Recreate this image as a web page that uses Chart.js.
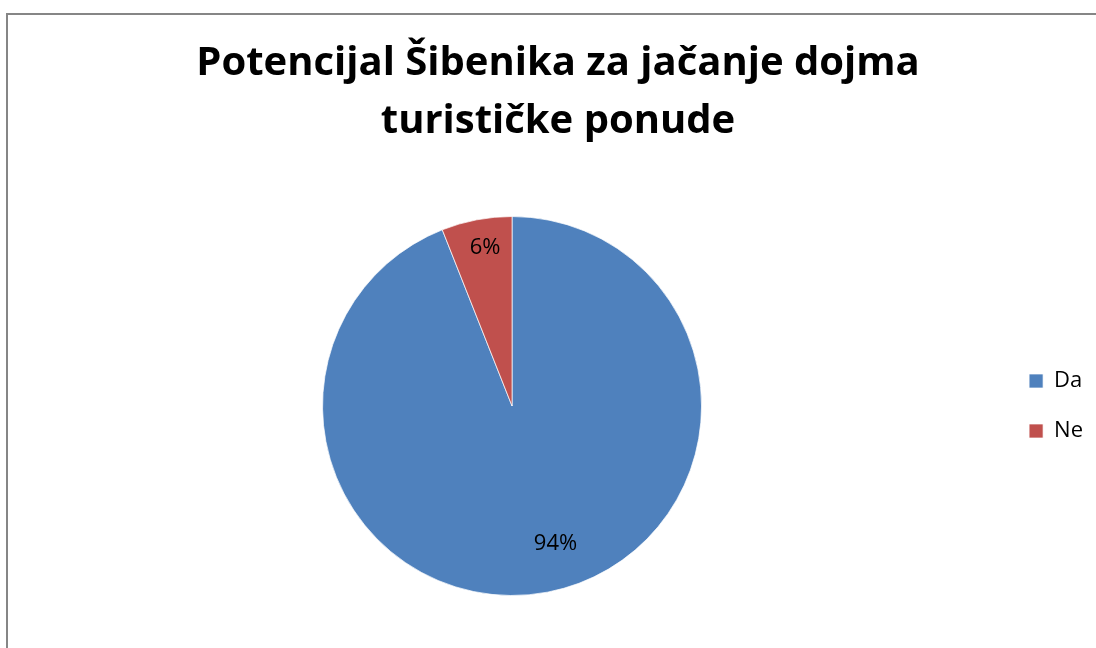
<!DOCTYPE html>
<html>
<head>
<meta charset="utf-8">
<script src="https://cdn.jsdelivr.net/npm/chart.js@4/dist/chart.umd.min.js"></script>
<style>
html,body{margin:0;padding:0;background:#fff;overflow:hidden;}
#wrap{position:absolute;left:0;top:0;width:1096px;height:648px;}
</style>
</head>
<body>
<div id="wrap"><canvas id="c" width="1096" height="648"></canvas></div>
<script>
const titleLines = ['Potencijal Šibenika za jačanje dojma', 'turističke ponude'];
const categories = ['Da', 'Ne'];
const values = [94, 6];
const colors = ['#4F81BD', '#C0504D'];

const FONT = '"Open Sans", Lato, sans-serif';

const frame = {
  id: 'frame',
  beforeDraw(chart) {
    const ctx = chart.ctx;
    ctx.save();
    ctx.fillStyle = '#fff';
    ctx.fillRect(0, 0, chart.width, chart.height);
    ctx.strokeStyle = '#868686';
    ctx.lineWidth = 2;
    ctx.beginPath();
    ctx.moveTo(7, chart.height + 5);
    ctx.lineTo(7, 14);
    ctx.lineTo(chart.width + 5, 14);
    ctx.stroke();
    ctx.restore();
  }
};

const sliceLabels = {
  id: 'sliceLabels',
  afterDatasetsDraw(chart) {
    const ctx = chart.ctx;
    const meta = chart.getDatasetMeta(0);
    const data = chart.data.datasets[0].data;
    const total = data.reduce((a, b) => a + b, 0);
    const radial = [0.762, 0.846];
    const turn = [-0.117, 0.02];
    ctx.save();
    ctx.font = '22px ' + FONT;
    ctx.fillStyle = '#000';
    ctx.textAlign = 'center';
    ctx.textBaseline = 'middle';
    meta.data.forEach((arc, i) => {
      const p = arc.getProps(['x', 'y', 'startAngle', 'endAngle', 'outerRadius'], true);
      const mid = (p.startAngle + p.endAngle) / 2 + turn[i];
      const r = p.outerRadius * radial[i];
      const txt = Math.round(data[i] / total * 100) + '%';
      ctx.fillText(txt, p.x + Math.cos(mid) * r, p.y + Math.sin(mid) * r);
    });
    ctx.restore();
  }
};

new Chart(document.getElementById('c'), {
  type: 'pie',
  data: {
    labels: categories,
    datasets: [{
      data: values,
      backgroundColor: colors,
      borderColor: 'rgba(255,255,255,0.7)',
      borderWidth: 1
    }]
  },
  options: {
    responsive: false,
    animation: false,
    layout: { padding: { left: 23, right: 3, top: 0, bottom: 52 } },
    plugins: {
      title: {
        display: true,
        text: titleLines,
        color: '#000',
        font: { family: FONT, size: 40, weight: 'bold', lineHeight: 1.4375 },
        padding: { top: 35, bottom: 66 }
      },
      legend: {
        position: 'right',
        fullSize: false,
        labels: {
          boxWidth: 14,
          boxHeight: 14,
          color: '#000',
          padding: 28,
          font: { family: FONT, size: 22 }
        }
      },
      tooltip: { enabled: false }
    }
  },
  plugins: [frame, sliceLabels]
});
</script>
</body>
</html>
